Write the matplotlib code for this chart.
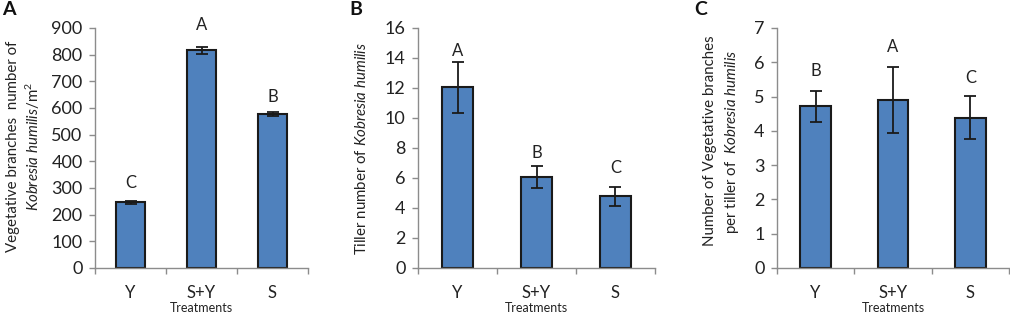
import matplotlib
matplotlib.use("Agg")
import matplotlib.pyplot as plt

plt.rcParams['font.family'] = ['Lato', 'DejaVu Sans']
plt.rcParams['mathtext.fontset'] = 'custom'
plt.rcParams['mathtext.rm'] = 'Lato'
plt.rcParams['mathtext.it'] = 'Lato:italic'

categories = ["Y", "S+Y", "S"]

a_values = [246, 816, 577]
a_errors = [5, 14, 8]
a_letters = ["C", "A", "B"]
a_letter_pos = [318, 910, 641]

b_values = [12.05, 6.05, 4.78]
b_errors = [1.7, 0.72, 0.65]
b_letters = ["A", "B", "C"]
b_letter_pos = [14.5, 7.7, 6.65]

c_values = [4.72, 4.90, 4.38]
c_errors = [0.45, 0.95, 0.63]
c_letters = ["B", "A", "C"]
c_letter_pos = [5.76, 6.45, 5.55]

W, H = 1010, 313
fig = plt.figure(figsize=(W / 100, H / 100), dpi=100)

bar_color = "#4F81BD"
axis_color = "#8C8C8C"
text_color = "#222222"


def panel(rect, values, errors, letters, letter_pos, ymax, ystep, panel_letter, panel_xy):
    l, r, top, bot = rect
    ax = fig.add_axes([l / W, (H - bot) / H, (r - l) / W, (bot - top) / H])
    x = list(range(len(categories)))
    ax.bar(x, values, width=0.4, color=bar_color, edgecolor="#1a1a1a", linewidth=1.5, zorder=2)
    ax.errorbar(x, values, yerr=errors, fmt="none", ecolor="#1a1a1a", elinewidth=1.3,
                capsize=4.5, capthick=1.3, zorder=3)
    for xi, lt, lp in zip(x, letters, letter_pos):
        ax.text(xi, lp, lt, ha="center", va="center", fontsize=12, color=text_color)
    ax.set_xlim(-0.5, len(categories) - 0.5)
    ax.set_ylim(0, ymax)
    ticks = [i * ystep for i in range(int(round(ymax / ystep)) + 1)]
    ax.set_yticks(ticks)
    ax.set_yticklabels([f"{t:g}" for t in ticks], fontsize=13, color=text_color)
    ax.set_xticks(x)
    ax.set_xticklabels(categories, fontsize=12, color=text_color)
    ax.set_xticks([i - 0.5 for i in range(len(categories) + 1)], minor=True)
    ax.tick_params(axis="x", which="major", length=0, pad=12)
    ax.tick_params(axis="x", which="minor", length=4, color=axis_color, width=1)
    ax.tick_params(axis="y", length=4, color=axis_color, width=1, pad=5)
    for s in ("top", "right"):
        ax.spines[s].set_visible(False)
    for s in ("left", "bottom"):
        ax.spines[s].set_color(axis_color)
        ax.spines[s].set_linewidth(1)
    ax.set_xlabel("Treatments", fontsize=9, color=text_color, labelpad=1)
    fig.text(panel_xy[0] / W, 1 - panel_xy[1] / H, panel_letter, fontsize=14,
             fontweight="bold", ha="left", va="top", color="#111111")
    return ax


axA = panel((95, 308, 28, 268), a_values, a_errors, a_letters, a_letter_pos, 900, 100, "A", (2, 1))
axB = panel((418, 655, 28, 268), b_values, b_errors, b_letters, b_letter_pos, 16, 2, "B", (349, 1))
axC = panel((777, 1009, 28, 268), c_values, c_errors, c_letters, c_letter_pos, 7, 1, "C", (694, 1))

lab_fs = 10.8
fig.text(13 / W, 1 - 146 / H, "Vegetative branches  number of", rotation=90, ha="center",
         va="center", fontsize=lab_fs, color=text_color)
fig.text(33 / W, 1 - 146 / H, r"$\it{Kobresia\ humilis}$/m$^2$", rotation=90, ha="center",
         va="center", fontsize=lab_fs, color=text_color)
fig.text(361 / W, 1 - 148 / H, r"Tiller number of $\it{Kobresia\ humilis}$", rotation=90,
         ha="center", va="center", fontsize=lab_fs, color=text_color)
fig.text(710 / W, 1 - 141 / H, "Number of Vegetative branches", rotation=90, ha="center",
         va="center", fontsize=lab_fs, color=text_color)
fig.text(732 / W, 1 - 142 / H, r"per tiller of  $\it{Kobresia\ humilis}$", rotation=90,
         ha="center", va="center", fontsize=lab_fs, color=text_color)

fig.savefig("out.png", dpi=100)
